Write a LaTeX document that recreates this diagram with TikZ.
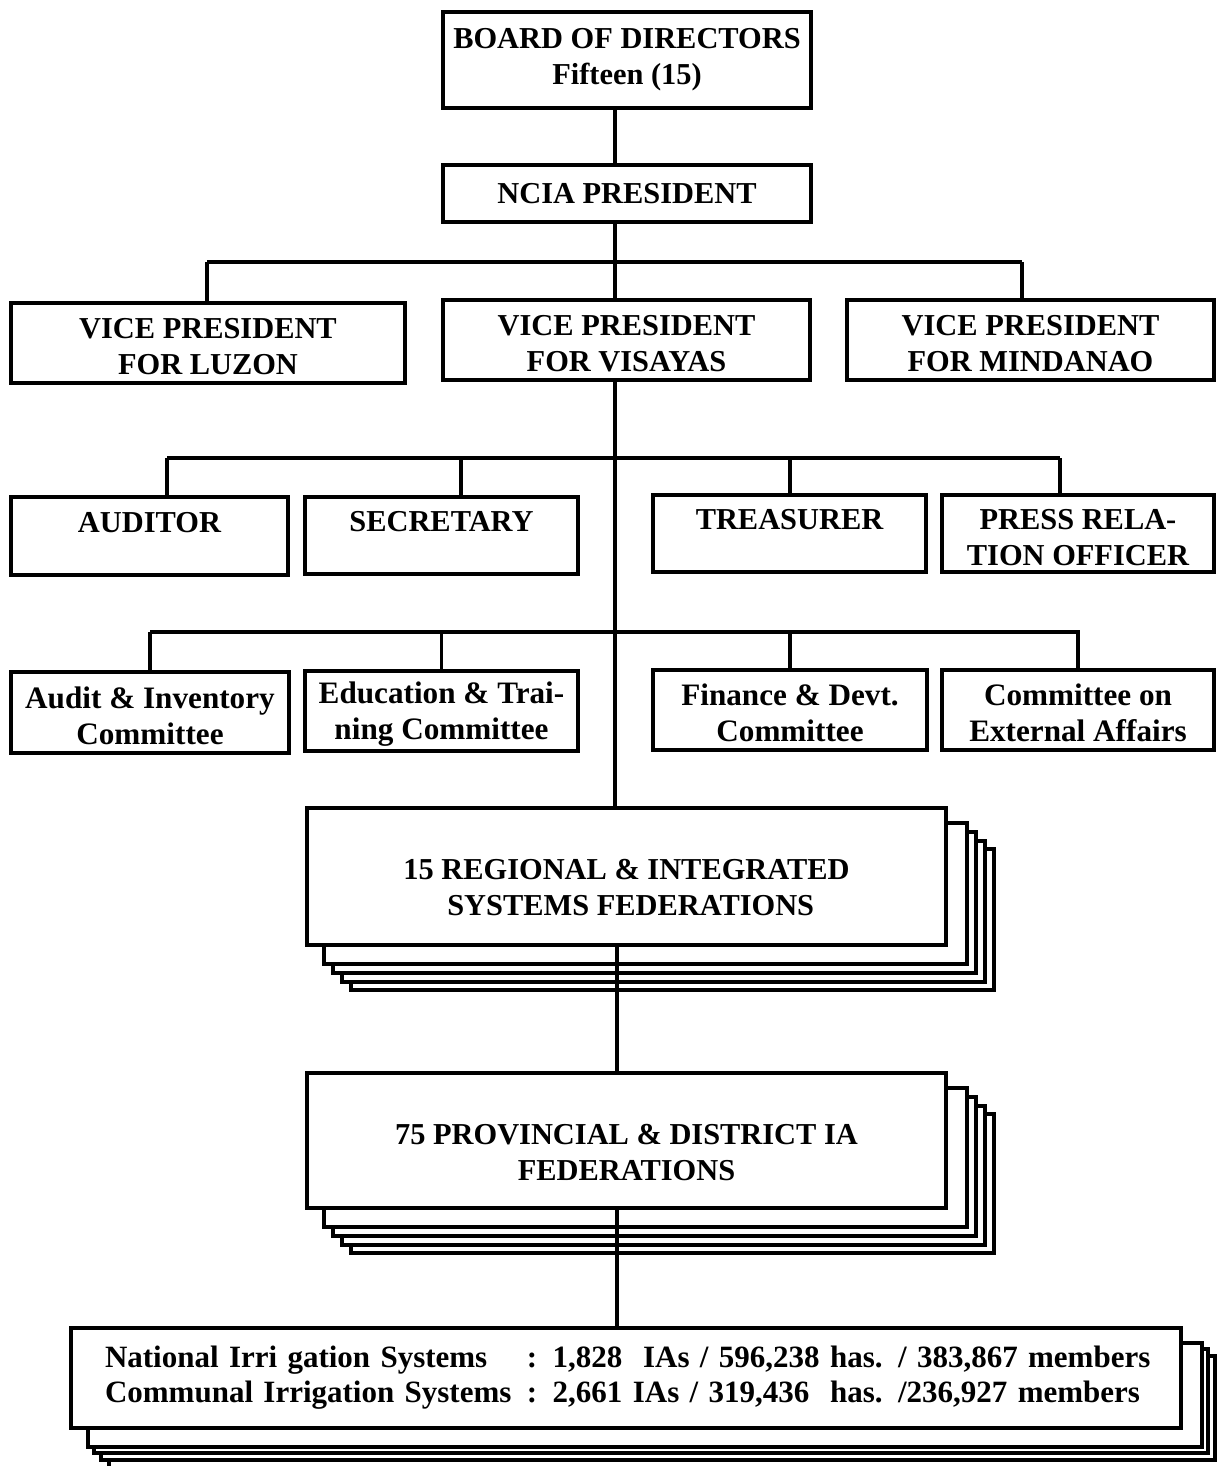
\documentclass[tikz,border=0pt]{standalone}
\usepackage{fontspec}
\setmainfont{Liberation Serif}
\usetikzlibrary{calc, backgrounds}

\begin{document}
\begin{tikzpicture}[
    x=0.5pt, y=-0.5pt, % Pixelraster
    box/.style={draw, line width=2pt, fill=white, align=center, inner sep=0pt,
      font=\bfseries\fontsize{15.2}{18}\selectfont}, % Style for boxes
    cbox/.style={box, font=\bfseries\fontsize{15.6}{18}\selectfont}, % Style for committees
    link/.style={line width=1.8pt}, % Style for connectors
    stack/.style={draw, line width=1.6pt, fill=white}, % Style for boxes behind
  ]
  \useasboundingbox (0,0) rectangle (1216,1466);

  % Stamm
  \coordinate (trunk) at (615,0);
  \coordinate (trunkb) at (617,0);

  % Leitung
  \node[box, minimum width=184pt, minimum height=48pt] (board) at (627,60) {BOARD OF DIRECTORS\\Fifteen (15)};
  \node[box, minimum width=184pt, minimum height=28.5pt] (pres) at (627,193.5) {NCIA PRESIDENT};

  % Vizepraesidenten
  \node[box, minimum width=197pt, minimum height=40pt] (luzon) at (208,343) {\rule{0pt}{14pt}VICE PRESIDENT\\FOR LUZON};
  \node[box, minimum width=183.5pt, minimum height=40pt] (vis) at (626.5,340) {\rule{0pt}{14pt}VICE PRESIDENT\\FOR VISAYAS};
  \node[box, minimum width=183.5pt, minimum height=40pt] (mind) at (1030.5,340) {\rule{0pt}{14pt}VICE PRESIDENT\\FOR MINDANAO};

  % Amtstraeger
  \node[box, minimum width=138.5pt, minimum height=39pt] (aud) at (149.5,536) {\rule{0pt}{14pt}AUDITOR\\~};
  \node[box, minimum width=136.5pt, minimum height=38.5pt] (sec) at (441.5,535.5) {\rule{0pt}{14pt}SECRETARY\\~};
  \node[box, minimum width=136.5pt, minimum height=38.5pt] (tre) at (789.5,533.5) {\rule{0pt}{14pt}TREASURER\\~};
  \node[box, minimum width=136pt, minimum height=38.5pt] (pro) at (1078,533.5) {\rule{0pt}{14pt}PRESS RELA-\\TION OFFICER};

  % Ausschuesse
  \node[cbox, minimum width=139pt, minimum height=40.5pt] (aic) at (150,712.5) {\rule{0pt}{14pt}Audit \& Inventory\\Committee};
  \node[cbox, minimum width=136.5pt, minimum height=40pt] (etc) at (441.5,710.5) {\rule{0pt}{14pt}Education \& Trai-\\ning Committee};
  \node[cbox, minimum width=137pt, minimum height=40pt] (fdc) at (790,710) {\rule{0pt}{14pt}Finance \& Devt.\\Committee};
  \node[cbox, minimum width=136pt, minimum height=40pt] (cea) at (1078,710) {\rule{0pt}{14pt}Committee on\\External Affairs};

  % Foederationen
  \node[box, minimum width=319.5pt, minimum height=68.5pt] (reg) at (626.5,876.5) {\rule{0pt}{21pt}15 REGIONAL \& INTEGRATED\\\phantom{i}SYSTEMS FEDERATIONS};
  \node[box, minimum width=319.5pt, minimum height=67.5pt] (prov) at (626.5,1140.5) {\rule{0pt}{22pt}75 PROVINCIAL \& DISTRICT IA\\FEDERATIONS};
  \node[box, minimum width=555pt, minimum height=50pt, text width=521pt, align=left, inner xsep=17pt,
    font=\bfseries\fontsize{15.5}{17.5}\selectfont] (ias) at (626,1378)
    {\begin{tabular}{@{}l@{\enspace:\enspace}l@{}}
      National Irri gation Systems & 1,828~ IAs / 596,238 has. / 383,867 members\\
      Communal Irrigation Systems & 2,661 IAs / 319,436~ has. /236,927 members
    \end{tabular}};

  % Stapel dahinter
  \begin{pgfonlayer}{background}
    \foreach \n in {reg, prov}
    \foreach \dx/\dy in {46/43, 37/35, 28/26, 19/17}
    \draw[stack] ($(\n.north west)+(\dx,\dy)$) rectangle ($(\n.south east)+(\dx,\dy)$);
    \foreach \dx/\dy in {40/38, 32/30, 25/23, 19/17}
    \draw[stack] ($(ias.north west)+(\dx,\dy)$) rectangle ($(ias.south east)+(\dx,\dy)$);
  \end{pgfonlayer}

  % Verbindungen
  \draw[link] (board.south -| trunk) -- (pres.north -| trunk);
  \draw[link] (pres.south -| trunk) -- (vis.north -| trunk);
  \draw[link] (207,262) -- (1022,262);
  \foreach \x/\n in {207/luzon, 1022/mind}
  \draw[link] (\x,262) -- (\x,262 |- \n.north);

  \draw[link] (vis.south -| trunk) -- (reg.north -| trunk);
  \draw[link] (167,458) -- (1060,458);
  \foreach \x/\n in {167/aud, 461/sec, 790/tre, 1060/pro}
  \draw[link] (\x,458) -- (\x,458 |- \n.north);

  \draw[link] (150,632) -- (1080,632);
  \foreach \n in {aic, etc, fdc, cea}
  \draw[link] (\n.north) -- (\n.north |- 0,632);

  \draw[link] (reg.south -| trunkb) -- (prov.north -| trunkb);
  \draw[link] (prov.south -| trunkb) -- (ias.north -| trunkb);

\end{tikzpicture}
\end{document}
